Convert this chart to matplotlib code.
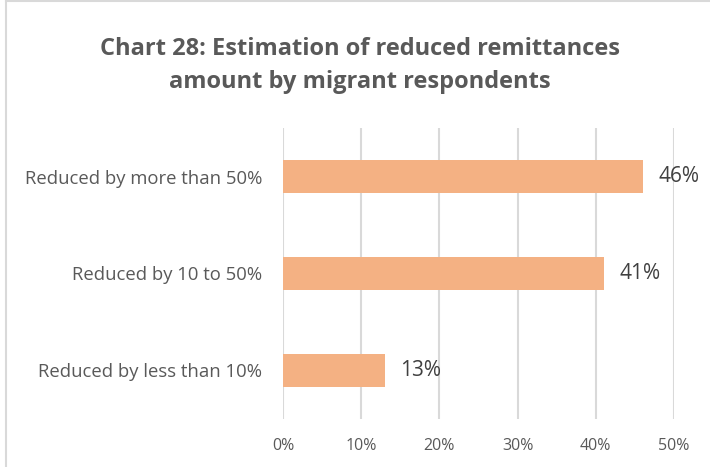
import matplotlib.pyplot as plt
from matplotlib.lines import Line2D

# ===== DATA =====
categories = ['Reduced by less than 10%', 'Reduced by 10 to 50%', 'Reduced by more than 50%']
shares = [13, 41, 46]
tick_values = [0, 10, 20, 30, 40, 50]
tick_labels = ['0%', '10%', '20%', '30%', '40%', '50%']
title = 'Chart 28: Estimation of reduced remittances\namount by migrant respondents'

plt.rcParams['font.family'] = ['Open Sans', 'DejaVu Sans']

# ===== PLOT =====
fig = plt.figure(figsize=(7.1, 4.67), dpi=100)
ax = fig.add_axes([0.3986, 0.1028, 0.5507, 0.6231])

y = range(len(categories))
ax.barh(y, shares, height=0.35, color='#F4B183', zorder=3)

for yi, v in zip(y, shares):
    ax.text(v + 2.0, yi, f'{v}%', va='center', ha='left',
            fontsize=15, color='#404040')

ax.set_xlim(0, 50)
ax.set_ylim(-0.5, 2.5)
ax.set_xticks(tick_values)
ax.set_xticklabels(tick_labels, fontsize=11.5, color='#595959')
ax.set_yticks(list(y))
ax.set_yticklabels(categories, fontsize=13.3, color='#595959')
ax.tick_params(axis='both', length=0)
ax.tick_params(axis='x', pad=14)
ax.tick_params(axis='y', pad=15)
ax.grid(axis='x', color='#D9D9D9', linewidth=1.5, zorder=0)
for s in ax.spines.values():
    s.set_visible(False)

fig.text(0.507, 0.92, title, ha='center', va='top', fontsize=17,
         fontweight='bold', color='#595959', linespacing=1.5)

# light frame on the left and top edges
fig.add_artist(Line2D([0.0085, 0.0085], [0, 0.998], color='#D9D9D9', linewidth=1.5))
fig.add_artist(Line2D([0.0085, 1], [0.998, 0.998], color='#D9D9D9', linewidth=1.5))

fig.savefig('out.png', dpi=100)
